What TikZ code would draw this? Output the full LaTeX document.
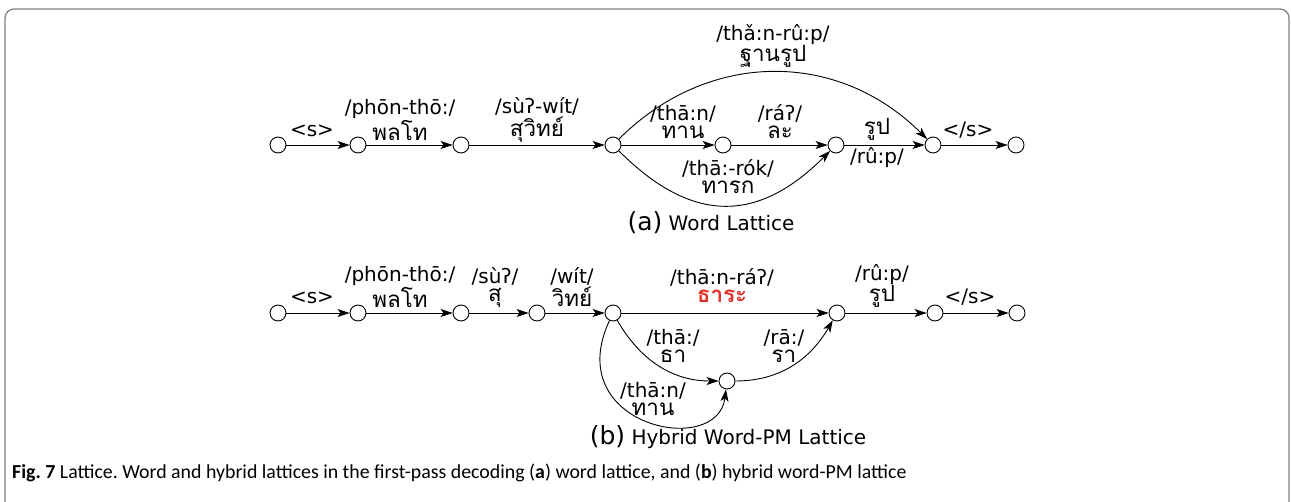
\documentclass[tikz,border=0pt]{standalone}
\usepackage{fontspec}
\usepackage{tikz}
\usetikzlibrary{arrows.meta}
\setmainfont{DejaVu Sans}
\newfontfamily\thaifont[Script=Thai,Scale=1.12]{Loma}
\newfontfamily\capfont{Carlito}
\newcommand{\thw}[1]{{\thaifont #1}}
\definecolor{framegray}{RGB}{128,128,128}
\definecolor{pmred}{RGB}{226,48,40}
\frenchspacing

\begin{document}
\begin{tikzpicture}[x=1pt,y=1pt,
    latnode/.style={circle,draw,minimum size=16pt,inner sep=0pt,line width=0.9pt},
    arc/.style={line width=0.9pt,-{Stealth[length=12pt,width=8pt,inset=3pt]}},
    lab/.style={font=\fontsize{20}{18}\selectfont,align=center,inner sep=0pt}]
    \useasboundingbox (0,0) rectangle (1291,-502);
    \draw[framegray,line width=1.3pt,rounded corners=9pt] (5,-510) |- (1289,-9) -- (1289,-510);

    % (a) word lattice
    \node[latnode] (n0) at (278,-145) {};
    \node[latnode] (n1) at (358,-145) {};
    \node[latnode] (n2) at (461,-145) {};
    \node[latnode] (n3) at (613,-145) {};
    \node[latnode] (n4) at (723,-145) {};
    \node[latnode] (n5) at (836,-145) {};
    \node[latnode] (n6) at (933,-145) {};
    \node[latnode] (n7) at (1016,-145) {};
    \draw[arc] (n0) -- (n1);
    \draw[arc] (n1) -- (n2);
    \draw[arc] (n2) -- (n3);
    \draw[arc] (n3) -- (n4);
    \draw[arc] (n4) -- (n5);
    \draw[arc] (n5) -- (n6);
    \draw[arc] (n6) -- (n7);
    \draw[arc] (n3) to[out=45,in=135,looseness=1.05] (n6);
    \draw[arc] (n3) to[out=-45,in=-135,looseness=1.25] (n5);
    \node[lab] (a01) at (312,-131) {<s>};
    \node[lab] (a12) at (400,-120) {/phōn-thō:/\\\thw{พลโท}};
    \node[lab] (a23) at (537,-120) {/sùʔ-wít/\\\thw{สุวิทย์}};
    \node[lab] (a34) at (683,-122) {/thā:n/\\\thw{ทาน}};
    \node[lab] (a45) at (780,-122) {/ráʔ/\\\thw{ละ}};
    \node[lab] (a36) at (773,-46) {/thǎ:n-rû:p/\\\thw{ฐานรูป}};
    \node[lab] (a35) at (728,-177) {/thā:-rók/\\\thw{ทารก}};
    \node[lab] (a56) at (877,-129) {\thw{รูป}};
    \node[lab] (a56b) at (877,-158) {/rû:p/};
    \node[lab] (a67) at (968,-130) {</s>};
    \node[lab] (cap-a) at (711,-223) {{\fontsize{25}{25}\selectfont(a)} Word Lattice};

    % (b) hybrid word-PM lattice
    \node[latnode] (m0) at (278,-313) {};
    \node[latnode] (m1) at (358,-313) {};
    \node[latnode] (m2) at (461,-313) {};
    \node[latnode] (m3) at (537,-313) {};
    \node[latnode] (m4) at (613,-313) {};
    \node[latnode] (m5) at (837,-313) {};
    \node[latnode] (m6) at (935,-313) {};
    \node[latnode] (m7) at (1017,-313) {};
    \node[latnode] (m8) at (727,-381) {};
    \draw[arc] (m0) -- (m1);
    \draw[arc] (m1) -- (m2);
    \draw[arc] (m2) -- (m3);
    \draw[arc] (m3) -- (m4);
    \draw[arc] (m4) -- (m5);
    \draw[arc] (m5) -- (m6);
    \draw[arc] (m6) -- (m7);
    \draw[arc] (m4) to[out=-60,in=180] (m8);
    \draw[arc] (m8) to[out=0,in=-120] (m5);
    \draw[arc] (m4) .. controls +(-115:125) and +(-97:78) .. (m8);
    \node[lab] (b01) at (312,-298) {<s>};
    \node[lab] (b12) at (400,-287) {/phōn-thō:/\\\thw{พลโท}};
    \node[lab] (b23) at (495,-287) {/sùʔ/\\\thw{สุ}};
    \node[lab] (b34) at (572,-287) {/wít/\\\thw{วิทย์}};
    \node[lab] (b45) at (722,-286) {/thā:n-ráʔ/\\\textcolor{pmred}{\bfseries\thw{ธาระ}}};
    \node[lab] (b56) at (882,-286) {/rû:p/\\\thw{รูป}};
    \node[lab] (b67) at (970,-297) {</s>};
    \node[lab] (b48) at (673,-346) {/thā:/\\\thw{ธา}};
    \node[lab] (b85) at (784,-346) {/rā:/\\\thw{รา}};
    \node[lab] (b48b) at (653,-399) {/thā:n/\\\thw{ทาน}};
    \node[lab] (cap-b) at (728,-437) {{\fontsize{25}{25}\selectfont(b)} Hybrid Word-PM Lattice};

    % caption
    \node[anchor=west,inner sep=0pt,font=\capfont\fontsize{19.85}{19.85}\selectfont] (fig) at (12,-473)
      {\textbf{Fig. 7} Lattice. Word and hybrid lattices in the first-pass decoding (\textbf{a}) word lattice, and (\textbf{b}) hybrid word-PM lattice};
\end{tikzpicture}
\end{document}
